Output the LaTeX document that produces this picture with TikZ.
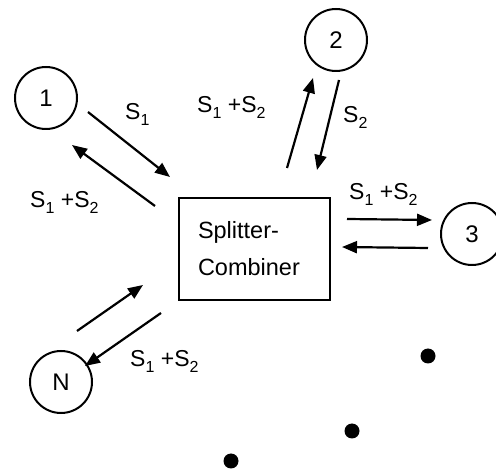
\documentclass[tikz,border=0pt]{standalone}
\usepackage{fontspec}
\setmainfont{Liberation Sans}
\usetikzlibrary{arrows.meta, positioning}

\tikzset{
    port/.style={circle, draw, line width=2pt, minimum size=62pt, inner sep=0pt,
        font=\fontsize{24}{24}\selectfont},
    hub/.style={rectangle, draw, line width=2pt, text width=113pt, inner xsep=19pt,
        minimum height=102pt, align=left, font=\fontsize{23.5}{37}\selectfont},
    sig/.style={-{Triangle[length=15pt, width=12pt]}, line width=2.2pt},
    lbl/.style={anchor=base west, inner sep=0pt, font=\fontsize{23}{23}\selectfont},
    dot/.style={circle, fill, minimum size=15pt, inner sep=0pt}
}
\newcommand{\sig}[1]{S\raisebox{-0.22em}{\fontsize{16}{16}\selectfont#1}}

\begin{document}
\begin{tikzpicture}[x=1pt, y=-1pt]
    \useasboundingbox (0,0) rectangle (496,470);

    \node[hub] (sc) at (254.5,249) {Splitter-\\Combiner};
    \node[port] (p1) at (46,98) {1};
    \node[port] (p2) at (336,40) {2};
    \node[port] (p3) at (472,234) {3};
    \node[port] (pn) at (61,382) {N};

    % port 1
    \draw[sig] ([shift={(42,14)}]p1.center) -- ([shift={(-84.5,-72)}]sc.center);
    \draw[sig] ([shift={(-99.5,-43)}]sc.center) -- ([shift={(26,47)}]p1.center);
    % port 2
    \draw[sig] ([shift={(32.5,-81)}]sc.center) -- ([shift={(-23,38)}]p2.center);
    \draw[sig] ([shift={(3,40)}]p2.center) -- ([shift={(62.5,-79)}]sc.center);
    % port 3
    \draw[sig] ([shift={(92.5,-30)}]sc.center) -- ([shift={(-40,-14)}]p3.center);
    \draw[sig] ([shift={(-44,14)}]p3.center) -- ([shift={(87.5,-2)}]sc.center);
    % port N
    \draw[sig] ([shift={(16,-51)}]pn.center) -- ([shift={(-111.5,36)}]sc.center);
    \draw[sig] ([shift={(-93.5,64)}]sc.center) -- ([shift={(24,-16)}]pn.center);

    % signal labels
    \node[lbl] (l1) at (125,120) {\sig{1}};
    \node[lbl] (l1b) at (30,208) {\sig{1} +\sig{2}};
    \node[lbl] (l2) at (197,113) {\sig{1} +\sig{2}};
    \node[lbl] (l2b) at (343,123) {\sig{2}};
    \node[lbl] (l3) at (349,200) {\sig{1} +\sig{2}};
    \node[lbl] (ln) at (130,367) {\sig{1} +\sig{2}};

    % more ports
    \node[dot] (d1) at (428,356) {};
    \node[dot] (d2) at (352,431) {};
    \node[dot] (d3) at (231,461) {};
\end{tikzpicture}
\end{document}
